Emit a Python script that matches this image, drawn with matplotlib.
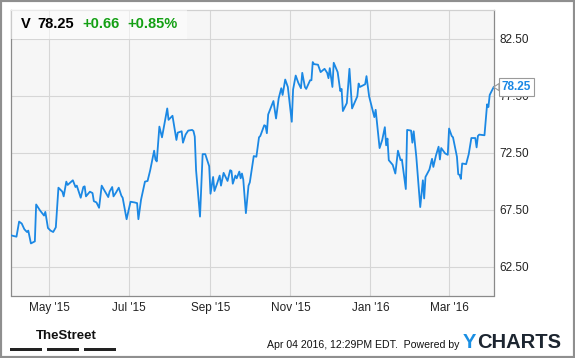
import matplotlib
matplotlib.use("Agg")
import matplotlib.pyplot as plt
import matplotlib.dates as mdates
import pandas as pd
from matplotlib.patches import Rectangle

plt.rcParams["font.family"] = ["Liberation Sans", "DejaVu Sans"]

ticker = "V"
change = 0.66
change_pct = 0.85
timestamp = "Apr 04 2016, 12:29PM EDT.  Powered by"

dates = [
    "2015-04-02", "2015-04-06", "2015-04-08", "2015-04-10", "2015-04-12", "2015-04-14",
    "2015-04-15", "2015-04-17", "2015-04-20", "2015-04-21", "2015-04-24", "2015-04-27",
    "2015-04-28", "2015-04-30", "2015-05-02", "2015-05-04", "2015-05-06", "2015-05-08",
    "2015-05-11", "2015-05-12", "2015-05-14", "2015-05-15", "2015-05-19", "2015-05-21",
    "2015-05-22", "2015-05-25", "2015-05-27", "2015-05-28", "2015-05-29", "2015-06-01",
    "2015-06-03", "2015-06-04", "2015-06-06", "2015-06-08", "2015-06-10", "2015-06-12",
    "2015-06-15", "2015-06-16", "2015-06-18", "2015-06-19", "2015-06-21", "2015-06-23",
    "2015-06-25", "2015-06-26", "2015-06-29", "2015-07-02", "2015-07-05", "2015-07-07",
    "2015-07-08", "2015-07-10", "2015-07-13", "2015-07-15", "2015-07-17", "2015-07-20",
    "2015-07-21", "2015-07-22", "2015-07-24", "2015-07-26", "2015-07-30", "2015-07-31",
    "2015-08-03", "2015-08-04", "2015-08-06", "2015-08-07", "2015-08-10", "2015-08-11",
    "2015-08-13", "2015-08-15", "2015-08-18", "2015-08-19", "2015-08-20", "2015-08-21",
    "2015-08-24", "2015-08-26", "2015-08-28", "2015-08-31", "2015-09-01", "2015-09-03",
    "2015-09-04", "2015-09-06", "2015-09-08", "2015-09-09", "2015-09-11", "2015-09-13",
    "2015-09-14", "2015-09-16", "2015-09-17", "2015-09-18", "2015-09-20", "2015-09-21",
    "2015-09-23", "2015-09-24", "2015-09-25", "2015-09-26", "2015-09-28", "2015-09-30",
    "2015-10-01", "2015-10-04", "2015-10-06", "2015-10-08", "2015-10-09", "2015-10-12",
    "2015-10-13", "2015-10-14", "2015-10-15", "2015-10-19", "2015-10-21", "2015-10-23",
    "2015-10-25", "2015-10-26", "2015-10-28", "2015-10-30", "2015-11-02", "2015-11-03",
    "2015-11-05", "2015-11-07", "2015-11-09", "2015-11-10", "2015-11-12", "2015-11-13",
    "2015-11-16", "2015-11-17", "2015-11-18", "2015-11-19", "2015-11-22", "2015-11-24",
    "2015-11-27", "2015-11-29", "2015-11-30", "2015-12-01", "2015-12-03", "2015-12-04",
    "2015-12-07", "2015-12-09", "2015-12-10", "2015-12-11", "2015-12-14", "2015-12-16",
    "2015-12-18", "2015-12-22", "2015-12-23", "2015-12-24", "2015-12-28", "2015-12-29",
    "2015-12-31", "2016-01-03", "2016-01-04", "2016-01-05", "2016-01-08", "2016-01-10",
    "2016-01-12", "2016-01-13", "2016-01-14", "2016-01-15", "2016-01-18", "2016-01-20",
    "2016-01-22", "2016-01-24", "2016-01-25", "2016-01-28", "2016-01-29", "2016-02-01",
    "2016-02-02", "2016-02-03", "2016-02-05", "2016-02-08", "2016-02-10", "2016-02-11",
    "2016-02-12", "2016-02-15", "2016-02-17", "2016-02-18", "2016-02-20", "2016-02-22",
    "2016-02-23", "2016-02-24", "2016-02-27", "2016-02-29", "2016-03-01", "2016-03-03",
    "2016-03-04", "2016-03-07", "2016-03-08", "2016-03-09", "2016-03-10", "2016-03-11",
    "2016-03-14", "2016-03-16", "2016-03-18", "2016-03-21", "2016-03-22", "2016-03-23",
    "2016-03-24", "2016-03-28", "2016-03-30", "2016-03-31", "2016-04-01", "2016-04-04",
]
prices = [
    65.26, 65.15, 66.47, 66.30, 65.80, 65.56, 65.68, 64.56, 64.74, 67.97, 67.44, 67.00,
    67.32, 65.91, 65.68, 65.56, 65.97, 69.44, 69.09, 68.68, 69.97, 69.68, 70.09, 69.50,
    69.62, 68.56, 69.50, 69.56, 68.68, 69.09, 68.97, 68.26, 68.15, 67.68, 69.62, 69.21,
    68.62, 69.09, 69.50, 68.68, 69.03, 69.44, 68.74, 68.56, 66.68, 68.21, 68.15, 68.09,
    66.68, 68.38, 69.97, 70.03, 70.97, 72.68, 71.91, 71.74, 74.79, 73.85, 76.38, 75.38,
    75.74, 75.03, 73.62, 74.26, 74.38, 73.38, 74.09, 74.44, 74.50, 74.40, 73.91, 70.97,
    66.91, 72.38, 72.38, 71.32, 68.91, 70.38, 69.15, 69.79, 70.50, 69.62, 70.74, 70.26,
    70.03, 70.97, 70.91, 69.79, 70.50, 70.26, 70.85, 70.26, 70.68, 70.15, 67.21, 69.62,
    69.91, 72.21, 72.15, 73.85, 73.97, 74.91, 74.85, 74.21, 75.85, 77.03, 75.50, 77.26,
    78.15, 77.56, 78.91, 78.26, 75.21, 78.03, 79.26, 78.62, 78.15, 79.50, 78.26, 78.09,
    78.85, 78.85, 80.44, 80.26, 80.21, 79.56, 79.85, 79.50, 79.03, 79.91, 78.26, 80.38,
    79.56, 77.91, 78.09, 76.15, 76.85, 79.85, 76.38, 77.44, 78.56, 78.26, 78.50, 79.21,
    77.44, 76.09, 75.62, 76.26, 72.91, 73.62, 74.74, 73.15, 73.74, 71.85, 71.44, 70.68,
    72.68, 71.85, 71.91, 69.32, 74.50, 74.44, 73.38, 74.38, 72.15, 67.74, 70.09, 68.50,
    70.38, 71.03, 71.97, 71.26, 72.26, 73.03, 71.91, 72.91, 72.44, 72.32, 74.62, 73.97,
    73.85, 72.15, 70.62, 70.56, 70.21, 71.56, 71.50, 72.38, 73.79, 73.79, 72.97, 73.97,
    74.09, 74.03, 76.74, 76.50, 77.56, 78.25,
]
y_ticks = [62.5, 67.5, 72.5, 77.5, 82.5]

LINE = "#1b88e4"
GREEN = "#14a014"

x = pd.to_datetime(dates)
last = prices[-1]

fig = plt.figure(figsize=(5.75, 3.58), dpi=100)
W, H = 575, 358


def fx(px):
    return px / W


def fy(py):
    return 1 - py / H


ax = fig.add_axes([fx(10.7), fy(295.5), fx(494.3 - 10.7), (295.5 - 10) / H])
ax.set_facecolor("#f6f6f6")
ax.plot(x, prices, color=LINE, linewidth=1.3, zorder=3)

ax.set_xlim(x[0] - pd.Timedelta(hours=10), x[-1] + pd.Timedelta(hours=12))
ax.set_ylim(60, 85)
ax.set_yticks(y_ticks)
ax.yaxis.set_major_formatter(matplotlib.ticker.FormatStrFormatter("%.2f"))
ax.yaxis.tick_right()
ax.xaxis.set_major_locator(mdates.MonthLocator(bymonth=[1, 3, 5, 7, 9, 11]))
ax.xaxis.set_major_formatter(mdates.DateFormatter("%b '%y"))
ax.tick_params(axis="both", length=0, labelsize=8.5, colors="#222222")
ax.tick_params(axis="y", pad=4)
ax.tick_params(axis="x", pad=5)
ax.set_axisbelow(True)
ax.grid(True, color="#d6d6d6", linewidth=0.8)
for side, sp in ax.spines.items():
    sp.set_color("#8a8a8a")
    sp.set_linewidth(0.9)
ax.spines["top"].set_color("#d0d0d0")

# last price callout (covers the 77.50 label, as in the original)
ax.annotate(
    f"{last:.2f}", xy=(x[-1], last), xytext=(6, 0), textcoords="offset points",
    va="center", ha="left", fontsize=8.5, fontweight="bold", color=LINE,
    annotation_clip=False, zorder=5,
    bbox=dict(boxstyle="square,pad=0.22", fc="white", ec="#9a9a9a", lw=0.8),
    arrowprops=dict(arrowstyle="wedge,tail_width=0.6,shrink_factor=0.5", fc="white",
                    ec="#9a9a9a", lw=0.8, shrinkA=0, shrinkB=0),
)

# header strip
fig.patches.append(Rectangle((fx(10.7), fy(39)), fx(187 - 10.7), 29 / H,
                             transform=fig.transFigure, fc="white", alpha=0.55,
                             ec="none", zorder=1))
hy = fy(24)
fig.text(fx(21), hy, ticker, fontsize=10.5, fontweight="bold", va="center")
fig.text(fx(37), hy, f"{last:.2f}", fontsize=10.5, fontweight="bold", va="center")
fig.text(fx(82), hy, f"+{change:.2f}", fontsize=10.5, fontweight="bold", va="center", color=GREEN)
fig.text(fx(127), hy, f"+{change_pct:.2f}%", fontsize=10.5, fontweight="bold", va="center", color=GREEN)

# footer
fig.text(fx(36), fy(336), "TheStreet", fontsize=9.5, fontweight="bold", va="center", color="#111111")
for x0, x1 in [(10.3, 42.2), (47, 78.8), (83.6, 115.5)]:
    fig.patches.append(Rectangle((fx(x0), fy(351)), fx(x1 - x0), 3 / H,
                                 transform=fig.transFigure, fc="#222222", ec="none"))
fig.text(fx(459), fy(345), timestamp, fontsize=7.6, ha="right", va="center", color="#111111")
fig.text(fx(463), fy(343), "Y", fontsize=14.5, fontweight="bold", va="center", color="#1a8fe3")
fig.text(fx(477.5), fy(343), "CHARTS", fontsize=14.5, fontweight="bold", va="center", color="#1c2530")

# outer frame
fig.patches.append(Rectangle((0, 0), 1, 1, transform=fig.transFigure, fill=False,
                             ec="#8f8f8f", lw=3, zorder=10))

fig.savefig("out.png", dpi=100)
